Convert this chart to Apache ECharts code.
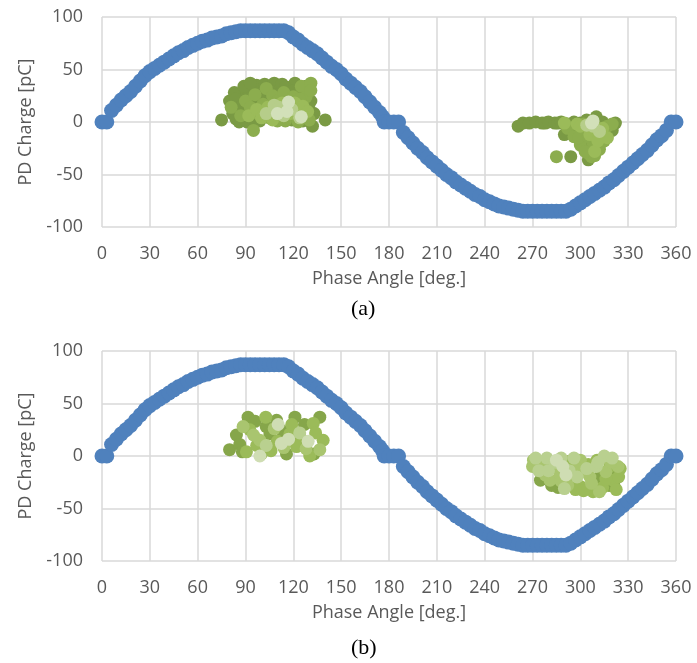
<!DOCTYPE html>
<html>
<head>
<meta charset="utf-8">
<script src="https://cdn.jsdelivr.net/npm/echarts@6.0.0/dist/echarts.min.js"></script>
<style>
  html, body { margin: 0; padding: 0; background: #fff; }
  #main { width: 697px; height: 663px; }
</style>
</head>
<body>
<div id="main"></div>
<script>
// phase angle (deg) and applied-voltage reference trace (pC scale)
var curveDeg = [0,3,6,9,12,15,18,21,24,27,30,33,36,39,42,45,48,51,54,57,60,63,66,69,72,75,78,81,84,87,
  90,93,96,99,102,105,108,111,114,117,120,123,126,129,132,135,138,141,144,147,150,153,156,159,162,165,168,171,174,176,
  177,180,183,186,189,192,195,198,201,204,207,210,213,216,219,222,225,228,231,234,237,240,243,246,249,252,255,258,261,264,
  267,270,273,276,279,282,285,288,291,294,297,300,303,306,309,312,315,318,321,324,327,330,333,336,339,342,345,348,351,354,357,360];
var curveVal = [0,0,11,16,21,25,29,34,39,44,48,51,54,57,60,63,66,68,71,73,75,77,78,80,81,82,84,85,86,87,
  87,87,87,87,87,87,87,87,87,85,81,78,74,71,68,65,61,57,53,50,46,41,37,33,29,24,19,14,9,5,
  0,0,0,0,-10,-15,-20,-25,-29,-34,-38,-42,-46,-50,-53,-57,-60,-63,-66,-69,-71,-74,-76,-78,-80,-81,-82,-83,-84,-85,
  -85,-85,-85,-85,-85,-85,-85,-85,-85,-83,-80,-77,-74,-71,-68,-65,-62,-58,-55,-51,-47,-43,-39,-35,-31,-27,-22,-17,-13,-8,0,0];

// PD pulses, chart (a), grouped by shade
var pdA_dark = [[75,2],[80,20],[82,8],[85,14],[84,3],[88,24],[90,10],[92,30],[95,18],[97,35],[100,28],[102,36],[104,22],[106,12],
  [108,37],[111,30],[113,36],[116,24],[118,33],[121,37],[124,28],[127,20],[130,12],[132,-4],[140,2],[86,0],[94,4],[99,1],[119,2],[126,1],
  [83,28],[89,34],[93,37],[99,22],[105,30],[110,26],[115,33],[120,30],[128,34],[131,20],[133,8],[84,22],[88,16],[91,0],[96,1],
  [261,-4],[264,-1],[268,-1],[272,0],[276,-1],[278,-1],[280,0],[284,-1],[286,-1],[288,0],[292,-2],[296,0],[300,-1],[304,2],[310,5],
  [314,0],[318,-3],[322,-1],[316,-12],[320,-8],[294,-33],[298,-10],[302,-18],[306,-25],[305,-36],[311,-14],[290,-12],[295,-6]];
var pdA_mid = [[81,14],[87,6],[90,20],[93,14],[95,-8],[96,26],[98,8],[101,17],[103,32],[105,4],[107,25],[110,20],[112,8],[114,28],
  [117,15],[120,24],[123,12],[125,34],[128,24],[131,37],[131,30],[129,4],[115,1],[122,6],[101,10],[110,1],[123,0],[130,2],[124,22],
  [285,-33],[292,-6],[296,-14],[300,-22],[303,-8],[305,-30],[308,-20],[309,-5],[312,-26],[313,-10],[317,-4],[320,-2],[302,-2],[307,-33],
  [312,-22],[315,-18],[309,-32],[303,-28],[299,-15],[305,-14]];
var pdA_light = [[92,6],[97,12],[100,4],[104,14],[109,10],[113,18],[118,8],[121,18],[126,15],[129,10],[107,2],
  [290,-1],[298,-2],[306,-12],[309,-28],[311,-18],[314,-6],[317,-15],[300,-4]];
var pdA_lighter = [[103,8],[108,16],[111,14],[114,6],[119,12],[124,4],[304,-3],[312,-9],[308,-4]];
var pdA_lightest = [[110,8],[116,10],[125,5],[117,19],[307,-1],[308,1]];

// PD pulses, chart (b)
var pdB_dark = [[91.6,37],[109.5,34],[121,37],[136.6,37],[84.3,20],[80,6],[115.7,2],[105.3,21],[86.4,11],[103,28],[96,33],[127,30],
  [133,2],[88,4],[113,24],[275,-23],[312,-20],[318,-28],[322,-15],[296,-26],[286,-30],[282,-28],[321,-28]];
var pdB_mid = [[102.7,37],[132.5,31],[92.7,25],[138.7,15],[90.6,4],[106,5],[122,9],[130.3,0],[117.8,21],[97,10],[125,16],[110,14],
  [134,22],[100,2],[119,30],[308,-34],[318.5,-10],[320.5,-23],[322.5,-32],[310.5,-4],[295,-23],[300,-29],[283,-10],[305,-8],
  [314,-30],[325,-12],[293,-5],[302,-33],[316,-22],[324,-20],[297,-32]];
var pdB_light = [[88.5,28],[136.6,6],[99,15],[114,8],[128,7],[108,26],[95,20],[270.6,-4],[281,-23],[300,-4],[306,-20],[312,-34],
  [323.7,-10],[276,-8],[287,-16],[316,-15],[303,-15],[298,-12],[270,-10],[278,-18],[288,-24],[307,-26],[319,-6],[292,-28]];
var pdB_lighter = [[124,22],[103,10],[279,-2],[288,-2],[304,-12],[290,-31],[315,0],[272,-2],[296,-2],[310,-10],[284,-6],[320,-2],
  [274,-14],[293,-14],[298,-20],[311,-6],[280,-14]];
var pdB_lightest = [[110.5,30],[99,0],[112.5,12],[129.3,14],[117,16],[289,-10],[291,-18],[285,-4]];

var captions = ['(a)', '(b)'];

var curve = curveDeg.map(function (d, i) { return [d, curveVal[i]]; });
var gridTops = [17, 351];
var labelColor = '#595959';
var font = 'Open Sans';

function axisPair(i) {
  var x = {
    type: 'value', gridIndex: i, min: 0, max: 360, interval: 30,
    name: 'Phase Angle [deg.]', nameLocation: 'middle', nameGap: 43,
    nameTextStyle: { color: labelColor, fontSize: 18, fontFamily: font },
    axisLine: { show: false }, axisTick: { show: false },
    axisLabel: { color: labelColor, fontSize: 18, fontFamily: font, margin: 18 },
    splitLine: { show: true, lineStyle: { color: '#d9d9d9', width: 1.5 } }
  };
  var y = {
    type: 'value', gridIndex: i, min: -100, max: 100, interval: 50,
    name: 'PD Charge [pC]', nameLocation: 'middle', nameGap: 67,
    nameTextStyle: { color: labelColor, fontSize: 18, fontFamily: font },
    axisLine: { show: false }, axisTick: { show: false },
    axisLabel: { color: labelColor, fontSize: 18, fontFamily: font, margin: 19 },
    splitLine: { show: true, lineStyle: { color: '#d9d9d9', width: 1.5 } }
  };
  return [x, y];
}

function dots(i, data, color, size) {
  return {
    type: 'scatter', xAxisIndex: i, yAxisIndex: i, data: data,
    symbolSize: size, itemStyle: { color: color, opacity: 1 },
    silent: true, animation: false
  };
}

var xAxes = [], yAxes = [], series = [];
[0, 1].forEach(function (i) {
  var a = axisPair(i);
  xAxes.push(a[0]);
  yAxes.push(a[1]);
  series.push(dots(i, curve, '#4f81bd', 15));
});
series.push(dots(0, pdA_dark, '#7a9a44', 13));
series.push(dots(0, pdA_mid, '#8cad4e', 13));
series.push(dots(0, pdA_light, '#9bbb59', 13));
series.push(dots(0, pdA_lighter, '#b6cd8a', 13));
series.push(dots(0, pdA_lightest, '#d2e0b9', 13));
series.push(dots(1, pdB_dark, '#86a64a', 13));
series.push(dots(1, pdB_mid, '#9bbb59', 13));
series.push(dots(1, pdB_light, '#a9c56f', 13));
series.push(dots(1, pdB_lighter, '#b9d08f', 13));
series.push(dots(1, pdB_lightest, '#cfddb3', 13));

var chart = echarts.init(document.getElementById('main'));
chart.setOption({
  animation: false,
  grid: gridTops.map(function (t) {
    return { left: 102, right: 21, top: t, height: 210 };
  }),
  xAxis: xAxes,
  yAxis: yAxes,
  graphic: captions.map(function (c, i) {
    return {
      type: 'text', left: 351, top: [298, 637][i],
      style: { text: c, fontFamily: 'Liberation Serif', fontSize: 22, fill: '#000' }
    };
  }),
  series: series
});
</script>
</body>
</html>
